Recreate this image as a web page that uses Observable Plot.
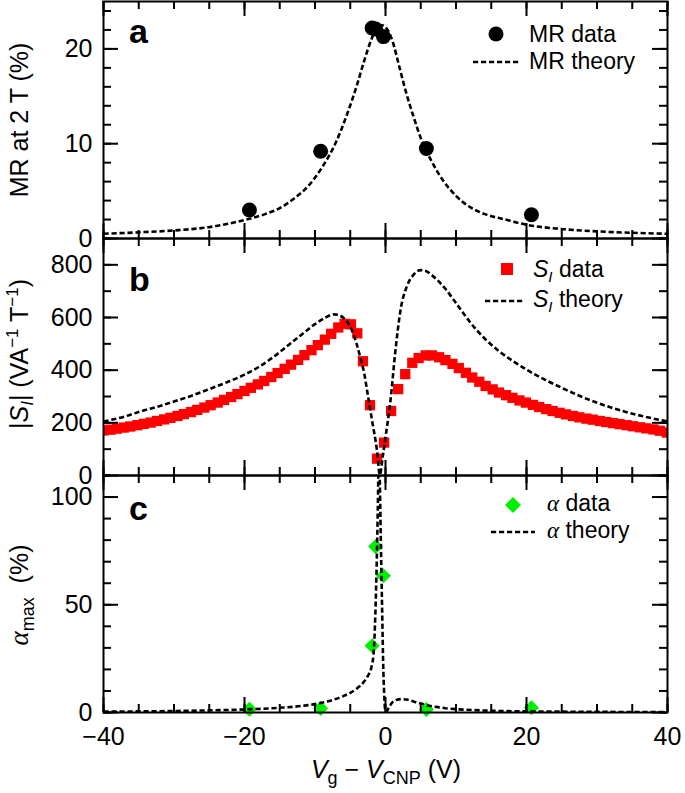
<!DOCTYPE html>
<html><head><meta charset="utf-8">
<script src="https://cdn.jsdelivr.net/npm/d3@7"></script>
<script src="https://cdn.jsdelivr.net/npm/@observablehq/plot@0.6"></script>
<style>
body{margin:0;background:#fff;}
#chart{width:685px;height:793px;}
#chart svg{display:block;overflow:visible;}
</style></head><body><div id="chart"></div>
<script>
// ---------- data ----------
const xMajorTicks = [-40, -20, 0, 20, 40];
const xMinorTicks = [-40, -35, -30, -25, -20, -15, -10, -5, 0, 5, 10, 15, 20, 25, 30, 35, 40];

// panel a
const mrTicksMajor = [0, 10, 20];
const mrTicksMinor = [0, 2, 4, 6, 8, 10, 12, 14, 16, 18, 20, 22, 24];
const mrDataV = [-19.3, -9.2, -1.9, -1.4, -0.3, 5.8, 20.7];
const mrData = [3.0, 9.2, 22.2, 22.1, 21.3, 9.5, 2.5];
const mrTheoryV = [-40, -35, -30, -25, -20, -17, -15, -13, -11, -9, -7, -5.5, -4, -3, -2, -1.2, -0.5, 0.3, 1, 2, 3, 4, 5, 6.5, 8, 10, 12, 14, 17, 20, 25, 30, 35, 40];
const mrTheory = [0.5, 0.65, 0.85, 1.2, 1.95, 2.6, 3.2, 4.2, 5.5, 7.5, 10.2, 13.0, 16.3, 18.8, 21.0, 22.3, 22.5, 22.0, 20.8, 18.0, 15.2, 12.8, 10.6, 8.2, 6.3, 4.5, 3.3, 2.6, 2.0, 1.45, 1.0, 0.75, 0.6, 0.5];

// panel b
const siTicksMajor = [0, 200, 400, 600, 800];
const siTicksMinor = [0, 100, 200, 300, 400, 500, 600, 700, 800, 900];
const siDataV = [-40.0, -39.0, -38.1, -37.1, -36.2, -35.2, -34.3, -33.3, -32.4, -31.4, -30.5, -29.5, -28.6, -27.6, -26.7, -25.7, -24.8, -23.8, -22.9, -21.9, -21.0, -20.0, -19.1, -18.1, -17.2, -16.2, -15.3, -14.3, -13.4, -12.4, -11.5, -10.5, -9.6, -8.6, -7.7, -6.7, -5.8, -4.9, -4.0, -3.2, -2.2, -1.2, -0.2, 0.8, 1.8, 2.8, 3.8, 4.7, 5.7, 6.6, 7.6, 8.5, 9.5, 10.4, 11.4, 12.3, 13.3, 14.2, 15.2, 16.1, 17.1, 18.0, 19.0, 19.9, 20.9, 21.8, 22.8, 23.7, 24.7, 25.6, 26.6, 27.5, 28.5, 29.4, 30.4, 31.3, 32.3, 33.2, 34.2, 35.1, 36.1, 37.0, 38.0, 38.9, 39.9];
const siData = [171, 174, 178, 182, 186, 191, 196, 201, 207, 213, 219, 226, 233, 241, 249, 258, 267, 277, 287, 298, 309, 321, 333, 346, 359, 374, 389, 405, 421, 439, 457, 476, 495, 516, 538, 562, 576, 574, 540, 434, 267, 64, 125, 245, 328, 385, 428, 446, 456, 456, 449, 438, 424, 408, 390, 372, 356, 340, 327, 315, 305, 295, 285, 277, 268, 260, 252, 245, 238, 232, 226, 221, 216, 212, 207, 203, 199, 195, 191, 187, 183, 179, 175, 170, 163];
const siTheoryV = [-40, -37, -34.8, -32, -30, -27.5, -25, -22.5, -20, -18, -16, -14, -12, -10, -8.5, -7.3, -6.5, -5.9, -5.2, -4.7, -4.1, -3.55, -3.0, -2.6, -1.9, -1.2, -0.8, -0.4, 0, 0.7, 1.4, 2.1, 3.1, 4.0, 5.0, 5.6, 6.6, 8.4, 10, 11, 12, 13, 14, 16, 18, 20, 22.6, 25, 28, 31, 34, 37, 40];
const siTheory = [205, 224, 243, 264, 281, 303, 328, 354, 383, 412, 448, 490, 533, 575, 600, 612, 608, 597, 575, 547, 500, 446, 385, 321, 208, 94, 2, 70, 145, 283, 472, 623, 723, 763, 780, 778, 760, 712, 655, 618, 582, 550, 522, 474, 436, 402, 364, 333, 297, 267, 242, 222, 205];

// panel c
const alTicksMajor = [0, 50, 100];
const alTicksMinor = [0, 10, 20, 30, 40, 50, 60, 70, 80, 90, 100, 110];
const alDataV = [-19.3, -9.2, -1.9, -1.4, -0.3, 5.8, 20.7];
const alData = [1.5, 1.9, 31, 77, 63.5, 1.4, 2.2];
const alTheoryV = [-40, -30, -25, -20, -15, -12, -10, -8, -6, -5, -4, -3, -2.5, -2, -1.7, -1.5, -1.4, -1.3, -1.17, -1.05, -0.95, -0.85, -0.67, -0.49, -0.3, -0.15, -0.05, 0.1, 0.5, 1.0, 1.6, 2.3, 3.0, 3.5, 4.3, 5.3, 6.2, 7.2, 8.5, 10.2, 12.5, 15.2, 20.7, 25, 30, 40];
const alTheory = [0.4, 0.7, 1.0, 1.4, 2.2, 3.0, 3.9, 5.3, 7.6, 9.1, 11.3, 14.5, 17.0, 21, 27, 40, 50, 62, 81, 103, 125, 115, 81, 50, 19, 6, 1, 0.3, 2.5, 4.8, 5.9, 6.2, 6.0, 5.6, 4.8, 3.9, 3.1, 2.6, 2.0, 1.5, 1.1, 0.8, 0.5, 0.4, 0.3, 0.2];

// ---------- layout ----------
const W = 685, ML = 103, MR = 18;
const PW = W - ML - MR;
const FONT = "'Liberation Sans', Arial, Helvetica, sans-serif";
const DASH = "5.2 2.8", LW = 2.6;
const pts = (xs, ys) => xs.map((v, i) => ({v, y: ys[i]}));

function ticks(yMajor, yMinor, ph) {
  const s = {stroke: "black", strokeWidth: 2};
  return [
    Plot.tickY(yMinor, {y: d => d, insetRight: PW - 8, ...s}),
    Plot.tickY(yMinor, {y: d => d, insetLeft: PW - 8, ...s}),
    Plot.tickY(yMajor, {y: d => d, insetRight: PW - 15, ...s}),
    Plot.tickY(yMajor, {y: d => d, insetLeft: PW - 15, ...s}),
    Plot.tickX(xMinorTicks, {x: d => d, insetTop: ph - 8, ...s}),
    Plot.tickX(xMinorTicks, {x: d => d, insetBottom: ph - 8, ...s}),
    Plot.tickX(xMajorTicks, {x: d => d, insetTop: ph - 15, ...s}),
    Plot.tickX(xMajorTicks, {x: d => d, insetBottom: ph - 15, ...s}),
    Plot.axisY(yMajor, {tickSize: 0, tickPadding: 11, fontSize: 25, label: null})
  ];
}

function panel({height, marginTop, marginBottom, yDomain, marks, yMajor, yMinor, xAxis}) {
  const ph = height - marginTop - marginBottom;
  return Plot.plot({
    width: W, height, marginLeft: ML, marginRight: MR, marginTop, marginBottom,
    x: {domain: [-40, 40], axis: null},
    y: {domain: yDomain, axis: null},
    style: {fontFamily: FONT, fontSize: "25px", color: "black", background: "transparent", overflow: "visible"},
    marks: [
      ...marks,
      ...ticks(yMajor, yMinor, ph),
      xAxis ? Plot.axisX(xMajorTicks, {tickSize: 0, tickPadding: 15, fontSize: 25, label: null}) : null,
      Plot.frame({stroke: "black", strokeWidth: 2})
    ]
  });
}

const dash = {stroke: "black", strokeWidth: LW, strokeDasharray: DASH, strokeLinecap: "butt", strokeLinejoin: "miter", curve: "monotone-x", clip: true};

const svgA = panel({
  height: 238, marginTop: 1, marginBottom: 0, yDomain: [0, 25],
  yMajor: mrTicksMajor, yMinor: mrTicksMinor,
  marks: [
    Plot.line(pts(mrTheoryV, mrTheory), {x: "v", y: "y", ...dash}),
    Plot.dot(pts(mrDataV, mrData), {x: "v", y: "y", r: 7.5, fill: "black", stroke: "none"})
  ]
});
const svgB = panel({
  height: 237, marginTop: 0, marginBottom: 0, yDomain: [0, 900],
  yMajor: siTicksMajor, yMinor: siTicksMinor,
  marks: [
    Plot.dot(pts(siDataV, siData), {x: "v", y: "y", symbol: "square", r: 5.8, fill: "#ff0000", stroke: "none", clip: true}),
    Plot.line(pts(siTheoryV, siTheory), {x: "v", y: "y", ...dash})
  ]
});
const svgC = panel({
  height: 318, marginTop: 0, marginBottom: 81, yDomain: [0, 110],
  yMajor: alTicksMajor, yMinor: alTicksMinor, xAxis: true,
  marks: [
    Plot.dot(pts(alDataV, alData), {x: "v", y: "y", symbol: "diamond2", r: 6.8, fill: "#00ee00", stroke: "none"}),
    Plot.line(pts(alTheoryV, alTheory), {x: "v", y: "y", ...dash})
  ]
});

const root = document.getElementById("chart");
root.append(svgA, svgB, svgC);

// ---------- text decorations ----------
function txt(svg, x, y, opts = {}) {
  return d3.select(svg).append("text")
    .attr("x", x).attr("y", y)
    .attr("font-family", FONT)
    .attr("font-size", opts.size || 23)
    .attr("font-weight", opts.weight || null)
    .attr("text-anchor", opts.anchor || "start")
    .attr("fill", "black");
}
function span(t, s, o = {}) {
  const e = t.append("tspan").text(s);
  if (o.italic) e.attr("font-style", "italic");
  if (o.size) e.attr("font-size", o.size);
  if (o.dy) e.attr("dy", o.dy);
  if (o.family) e.attr("font-family", o.family);
  return e;
}
function rotLabel(svg, cx, cy) {
  return txt(svg, 0, 0, {size: 25, anchor: "middle"}).attr("transform", `translate(${cx},${cy}) rotate(-90)`);
}
const SERIF = "'Liberation Serif', 'DejaVu Serif', serif";

// panel letters
txt(svgA, 129, 43, {size: 34, weight: "bold"}).text("a");
txt(svgB, 129, 53, {size: 34, weight: "bold"}).text("b");
txt(svgC, 129, 45, {size: 34, weight: "bold"}).text("c");

// y labels
rotLabel(svgA, 28, 120).text("MR at 2 T (%)");
{
  const t = rotLabel(svgB, 28, 116);
  span(t, "|");
  span(t, "S", {italic: true});
  span(t, "I", {italic: true, size: 17, dy: 5});
  span(t, "| (VA", {dy: -5});
  span(t, "−1", {size: 17, dy: -10});
  span(t, " T", {dy: 10});
  span(t, "−1", {size: 17, dy: -10});
  span(t, ")", {dy: 10});
}
{
  const t = rotLabel(svgC, 28, 120);
  span(t, "α", {italic: true, family: SERIF, size: 27});
  span(t, "max", {size: 18, dy: 6});
  span(t, "  (%)", {dy: -6});
}
// x label
{
  const t = txt(svgC, 386, 778 - 475, {size: 25, anchor: "middle"});
  span(t, "V", {italic: true});
  span(t, "g", {size: 18, dy: 6});
  span(t, " − ", {dy: -6});
  span(t, "V", {italic: true});
  span(t, "CNP", {size: 18, dy: 6});
  span(t, " (V)", {dy: -6});
}

// legends
function dashLine(svg, x1, x2, y) {
  d3.select(svg).append("line").attr("x1", x1).attr("x2", x2).attr("y1", y).attr("y2", y)
    .attr("stroke", "black").attr("stroke-width", LW).attr("stroke-dasharray", DASH).attr("stroke-linecap", "butt");
}
// a
d3.select(svgA).append("circle").attr("cx", 496).attr("cy", 34).attr("r", 7.5).attr("fill", "black");
txt(svgA, 529, 42).text("MR data");
dashLine(svgA, 473, 519, 62);
txt(svgA, 529, 69).text("MR theory");
// b
d3.select(svgB).append("rect").attr("x", 501).attr("y", 25).attr("width", 12).attr("height", 12).attr("fill", "#ff0000");
{
  const t = txt(svgB, 533, 39);
  span(t, "S", {italic: true});
  span(t, "I", {italic: true, size: 15, dy: 5});
  span(t, " data", {dy: -5});
}
dashLine(svgB, 485, 523, 63);
{
  const t = txt(svgB, 533, 69);
  span(t, "S", {italic: true});
  span(t, "I", {italic: true, size: 15, dy: 5});
  span(t, " theory", {dy: -5});
}
// c
d3.select(svgC).append("path").attr("d", "M513,22L521,30L513,38L505,30Z").attr("fill", "#00ee00");
{
  const t = txt(svgC, 547, 36);
  span(t, "α", {italic: true, family: SERIF});
  span(t, " data");
}
dashLine(svgC, 491, 535, 57);
{
  const t = txt(svgC, 547, 63);
  span(t, "α", {italic: true, family: SERIF});
  span(t, " theory");
}
</script>
</body></html>
